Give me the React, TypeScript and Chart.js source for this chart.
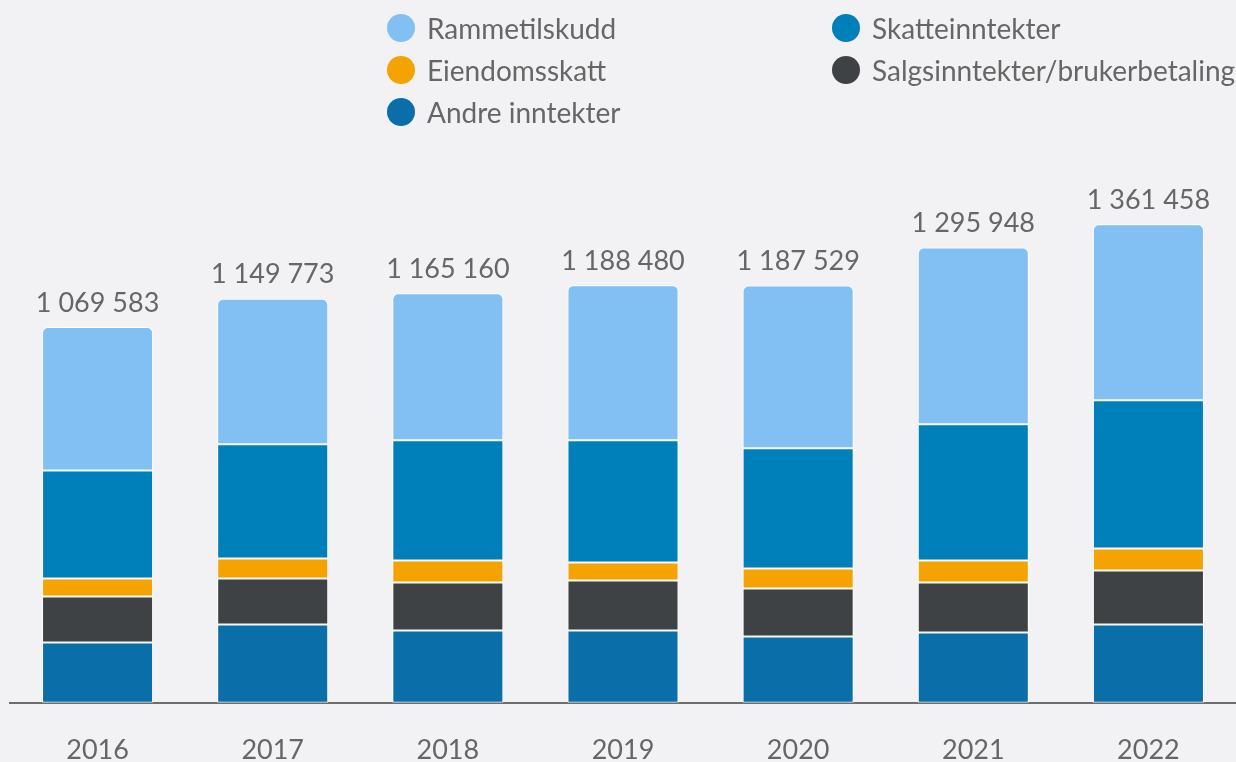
import { useEffect, useRef } from "react";
import { Chart, registerables } from "chart.js";

Chart.register(...registerables);

const years = ["2016", "2017", "2018", "2019", "2020", "2021", "2022"];
const totals = [1069583, 1149773, 1165160, 1188480, 1187529, 1295948, 1361458];
const andreInntekter = [171000, 222300, 205200, 205200, 188100, 199500, 222300];
const salgsinntekter = [131100, 131100, 136800, 142500, 136800, 142500, 153900];
const eiendomsskatt = [51300, 57000, 62700, 51300, 57000, 62700, 62700];
const skatteinntekter = [307800, 324900, 342000, 347700, 342000, 387600, 421800];
const rammetilskudd = [408400, 414500, 418500, 441800, 463600, 503600, 500800];

const FONT = "Lato, 'Open Sans', sans-serif";
const TEXT = "#666666";
const BG = "#f2f2f4";

const fmt = (n: number) => String(n).replace(/\B(?=(\d{3})+(?!\d))/g, " ");

// legend order (row-major, two columns)
const legendOrder = ["Rammetilskudd", "Skatteinntekter", "Eiendomsskatt", "Salgsinntekter/brukerbetaling", "Andre inntekter"];

const legendPlugin = {
  id: "customLegend",
  afterDraw(chart: any) {
    const ctx = chart.ctx;
    const colX = [401, 846];
    const rowY = [28, 70, 112];
    ctx.save();
    ctx.font = `28px ${FONT}`;
    ctx.textBaseline = "middle";
    ctx.textAlign = "left";
    legendOrder.forEach((name, i) => {
      const ds = chart.data.datasets.find((d: any) => d.label === name);
      if (!ds) return;
      const cx = colX[i % 2];
      const cy = rowY[Math.floor(i / 2)];
      ctx.beginPath();
      ctx.arc(cx, cy, 14, 0, Math.PI * 2);
      ctx.fillStyle = ds.backgroundColor;
      ctx.fill();
      ctx.fillStyle = TEXT;
      ctx.fillText(name, cx + 26, cy + 2);
    });
    ctx.restore();
  },
};

const totalsPlugin = {
  id: "totals",
  afterDatasetsDraw(chart: any) {
    const ctx = chart.ctx;
    const last = chart.data.datasets.length - 1;
    const meta = chart.getDatasetMeta(last);
    ctx.save();
    ctx.font = `27px ${FONT}`;
    ctx.fillStyle = TEXT;
    ctx.textAlign = "center";
    ctx.textBaseline = "middle";
    meta.data.forEach((el: any, i: number) => {
      ctx.fillText(fmt(totals[i]), el.x, el.y - 24);
    });
    ctx.restore();
  },
};

export default function App() {
  const ref = useRef<HTMLCanvasElement | null>(null);

  useEffect(() => {
    document.documentElement.style.overflow = "hidden";
    document.body.style.margin = "0";
    document.body.style.overflow = "hidden";
    document.body.style.background = BG;
    if (!ref.current) return;
    const common = {
      borderColor: "#ffffff",
      borderWidth: 1,
      borderSkipped: false as const,
      inflateAmount: 0,
      barPercentage: 0.634,
      categoryPercentage: 1,
    };
    const chart = new Chart(ref.current, {
      type: "bar",
      data: {
        labels: years,
        datasets: [
          { label: "Andre inntekter", data: andreInntekter, backgroundColor: "#0a6ea8", ...common },
          { label: "Salgsinntekter/brukerbetaling", data: salgsinntekter, backgroundColor: "#3e4244", ...common },
          { label: "Eiendomsskatt", data: eiendomsskatt, backgroundColor: "#f5a300", ...common },
          { label: "Skatteinntekter", data: skatteinntekter, backgroundColor: "#0080bb", ...common },
          {
            label: "Rammetilskudd",
            data: rammetilskudd,
            backgroundColor: "#82bff2",
            ...common,
            borderRadius: { topLeft: 6, topRight: 6, bottomLeft: 0, bottomRight: 0 },
          },
        ],
      },
      options: {
        animation: false,
        responsive: true,
        maintainAspectRatio: false,
        layout: { padding: { left: 10, top: 160, right: 0, bottom: -35 } },
        plugins: { legend: { display: false }, tooltip: { enabled: false } },
        scales: {
          x: {
            stacked: true,
            grid: { display: false, drawTicks: false },
            border: { display: true, color: "#6d6d6d", width: 2 },
            ticks: {
              color: TEXT,
              padding: 35,
              font: { family: FONT, size: 27, lineHeight: 0.9 },
            },
          },
          y: {
            stacked: true,
            display: false,
            min: 0,
            max: 1544700,
          },
        },
      },
      plugins: [legendPlugin, totalsPlugin],
    });
    return () => chart.destroy();
  }, []);

  return (
    <div style={{ width: 1236, height: 762, position: "relative", background: BG }}>
      <canvas ref={ref} />
    </div>
  );
}
